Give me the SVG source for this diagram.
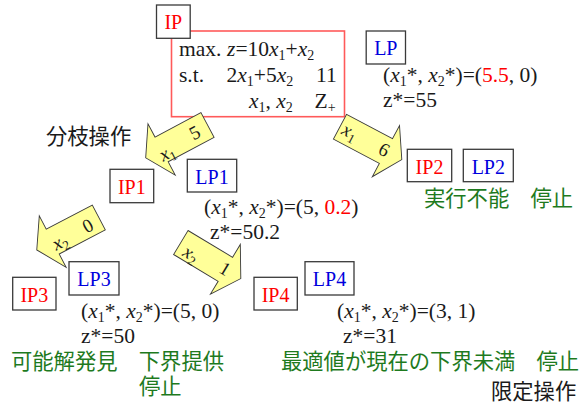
<svg xmlns="http://www.w3.org/2000/svg" width="587" height="403" viewBox="0 0 587 403">
<style>
.bx{fill:#fff;stroke:#3a3a3a;stroke-width:1.3}
.lb{font-family:"Liberation Serif","Times New Roman",serif;font-size:20px;text-anchor:middle}
.ip{fill:#ff0000}
.lp{fill:#0000dd}
.m{font-family:"Liberation Serif","Times New Roman",serif;font-size:21.5px;fill:#1a1a1a}
.i{font-style:italic}
.sb{font-size:14px}
.g{font-family:"Noto Sans CJK JP","Noto Sans",sans-serif;font-size:21.3px;fill:#1e7a1e}
.k{font-family:"Noto Sans CJK JP","Noto Sans",sans-serif;font-size:21.3px;fill:#1a1a1a}
.ar{fill:#ffff99;stroke:#3a3a3a;stroke-width:0.9}
.al{font-family:"Liberation Serif","Times New Roman",serif;font-size:19px;fill:#1a1a1a;text-anchor:middle}
.al .sb{font-size:13px}
.red{fill:#ff0000}
</style>
<defs>
<path id="arr" d="M0,-14 L52,-14 L52,-29 L70,0 L52,29 L52,14 L0,14 Z"/>
</defs>

<g id="IP">
<rect x="171.5" y="31" width="173" height="85.7" fill="#fff" stroke="#ff5a5a" stroke-width="1.6"/>
<rect class="bx" x="156.5" y="5" width="33.7" height="33.3"/>
<text class="lb ip" x="173.3" y="29">IP</text>
<text class="m" x="179" y="56">max.</text>
<text class="m" x="227" y="56"><tspan class="i">z</tspan>=10<tspan class="i">x</tspan><tspan class="sb" dy="4">1</tspan><tspan dy="-4">+</tspan><tspan class="i">x</tspan><tspan class="sb" dy="4">2</tspan></text>
<text class="m" x="179" y="82">s.t.</text>
<text class="m" x="226.5" y="82">2<tspan class="i">x</tspan><tspan class="sb" dy="4">1</tspan><tspan dy="-4">+5</tspan><tspan class="i">x</tspan><tspan class="sb" dy="4">2</tspan></text>
<text class="m" x="316" y="82">11</text>
<text class="m" x="249" y="108"><tspan class="i">x</tspan><tspan class="sb" dy="4">1</tspan><tspan dy="-4">, </tspan><tspan class="i">x</tspan><tspan class="sb" dy="4">2</tspan></text>
<text class="m" x="314.5" y="108">Z<tspan class="sb" dy="4">+</tspan></text>
</g>

<g id="LP">
<rect class="bx" x="366.2" y="31" width="39.3" height="33"/>
<text class="lb lp" x="385.8" y="55">LP</text>
<text class="m" x="383" y="82">(<tspan class="i">x</tspan><tspan class="sb" dy="4">1</tspan><tspan dy="-4">*, </tspan><tspan class="i">x</tspan><tspan class="sb" dy="4">2</tspan><tspan dy="-4">*)=(</tspan><tspan class="red">5.5</tspan>, 0)</text>
<text class="m" x="383" y="106.5">z*=55</text>
</g>

<g id="IP1">
<rect class="bx" x="110" y="169.3" width="43.7" height="33.4"/>
<text class="lb ip" x="131.8" y="194">IP1</text>
</g>

<g id="LP1">
<rect class="bx" x="187.3" y="159.3" width="49.4" height="32.7"/>
<text class="lb lp" x="212" y="183.5">LP1</text>
<text class="m" x="204" y="214">(<tspan class="i">x</tspan><tspan class="sb" dy="4">1</tspan><tspan dy="-4">*, </tspan><tspan class="i">x</tspan><tspan class="sb" dy="4">2</tspan><tspan dy="-4">*)=(5, </tspan><tspan class="red">0.2</tspan>)</text>
<text class="m" x="210" y="239">z*=50.2</text>
</g>

<g id="IP2">
<rect class="bx" x="407.3" y="149.3" width="44.4" height="32.4"/>
<text class="lb ip" x="429.5" y="173.5">IP2</text>
</g>

<g id="LP2">
<rect class="bx" x="463.3" y="149.3" width="50" height="32.4"/>
<text class="lb lp" x="488.3" y="173.5">LP2</text>
<text class="g" x="424" y="205.5">実行不能　停止</text>
</g>

<g id="IP3">
<rect class="bx" x="12.7" y="277.3" width="43.3" height="32.7"/>
<text class="lb ip" x="34.3" y="301.5">IP3</text>
</g>

<g id="LP3">
<rect class="bx" x="69" y="261.7" width="50" height="33.3"/>
<text class="lb lp" x="94" y="286">LP3</text>
<text class="m" x="81" y="317.5">(<tspan class="i">x</tspan><tspan class="sb" dy="4">1</tspan><tspan dy="-4">*, </tspan><tspan class="i">x</tspan><tspan class="sb" dy="4">2</tspan><tspan dy="-4">*)=(5, 0)</tspan></text>
<text class="m" x="81" y="343">z*=50</text>
<text class="g" x="11" y="368.5">可能解発見　下界提供</text>
<text class="g" x="139" y="393.5">停止</text>
</g>

<g id="IP4">
<rect class="bx" x="254" y="277.3" width="43.3" height="32.7"/>
<text class="lb ip" x="275.6" y="301.5">IP4</text>
</g>

<g id="LP4">
<rect class="bx" x="305" y="261.7" width="49" height="33.3"/>
<text class="lb lp" x="329.5" y="286">LP4</text>
<text class="m" x="337" y="317.5">(<tspan class="i">x</tspan><tspan class="sb" dy="4">1</tspan><tspan dy="-4">*, </tspan><tspan class="i">x</tspan><tspan class="sb" dy="4">2</tspan><tspan dy="-4">*)=(3, 1)</tspan></text>
<text class="m" x="343" y="343">z*=31</text>
<text class="g" x="281" y="368.5">最適値が現在の下界未満　停止</text>
</g>

<g id="labels">
<text class="k" x="46" y="143.5">分枝操作</text>
<text class="k" x="491" y="398.5">限定操作</text>
</g>

<g id="connectors">
<use href="#arr" class="ar" transform="translate(207.5,125) rotate(152)"/>
<text class="al" transform="translate(167,153) rotate(-28)" y="6"><tspan class="i">x</tspan><tspan class="sb" dy="4">1</tspan></text>
<text class="al" transform="translate(195,133) rotate(-28)" y="6">5</text>

<use href="#arr" class="ar" transform="translate(340,126.7) rotate(28)"/>
<text class="al" transform="translate(350,131.7) rotate(28)" y="6"><tspan class="i">x</tspan><tspan class="sb" dy="4">1</tspan></text>
<text class="al" transform="translate(384,150) rotate(28)" y="6">6</text>

<use href="#arr" class="ar" transform="translate(98.8,217.5) rotate(152.4)"/>
<text class="al" transform="translate(60,242) rotate(-27.6)" y="6"><tspan class="i">x</tspan><tspan class="sb" dy="4">2</tspan></text>
<text class="al" transform="translate(88,226) rotate(-27.6)" y="6">0</text>

<use href="#arr" class="ar" transform="translate(180.8,242.5) rotate(31)"/>
<text class="al" transform="translate(191,254) rotate(31)" y="6"><tspan class="i">x</tspan><tspan class="sb" dy="4">2</tspan></text>
<text class="al" transform="translate(225,269) rotate(31)" y="6">1</text>
</g>
</svg>
